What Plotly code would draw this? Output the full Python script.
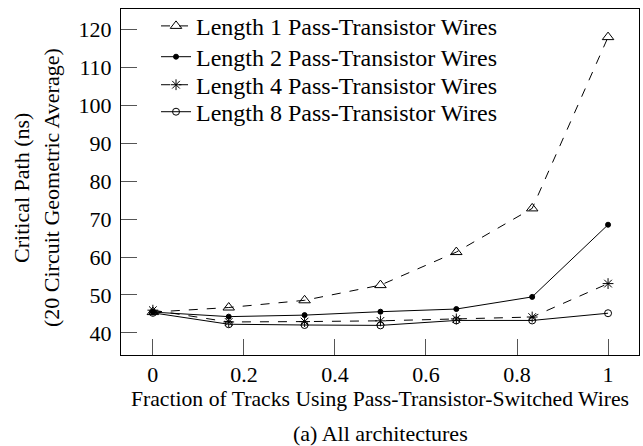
import plotly.graph_objects as go

fraction = [0, 1/6, 1/3, 1/2, 2/3, 5/6, 1]
len1 = [45.5, 46.7, 48.6, 52.6, 61.3, 72.8, 117.9]
len2 = [45.5, 44.3, 44.7, 45.6, 46.3, 49.5, 68.5]
len4 = [46.0, 42.9, 43.0, 43.2, 43.7, 44.2, 53.0]
len8 = [45.3, 42.3, 42.1, 42.0, 43.3, 43.3, 45.2]
names = ["Length 1 Pass-Transistor Wires", "Length 2 Pass-Transistor Wires",
         "Length 4 Pass-Transistor Wires", "Length 8 Pass-Transistor Wires"]
xticks = [0, 0.2, 0.4, 0.6, 0.8, 1]
yticks = [40, 50, 60, 70, 80, 90, 100, 110, 120]

FONT = "Liberation Serif"
FS = 22
LFS = 24
fig = go.Figure()
specs = [
    ("dash", "triangle-up-open", 10),
    ("solid", "circle", 5),
    ("dash", "asterisk-open", 9),
    ("solid", "circle-open", 7),
]
legend_ids = ["legend", "legend2", "legend3", "legend4"]
for vals, nm, (dash, sym, sz), lg in zip([len1, len2, len4, len8], names, specs, legend_ids):
    fig.add_trace(go.Scatter(
        x=fraction, y=vals, name=nm, mode="lines+markers", legend=lg,
        line=dict(color="black", width=1, dash=dash),
        marker=dict(symbol=sym, size=sz, color="black", line=dict(color="black", width=1)),
    ))

leg_y = [0.950, 0.861, 0.780, 0.702]
leg_common = dict(x=0.0676, xanchor="left", yanchor="middle", bgcolor="rgba(0,0,0,0)",
                  font=dict(size=LFS, family=FONT), itemwidth=30)
layout_legends = {lg: dict(y=yy, **leg_common) for lg, yy in zip(legend_ids, leg_y)}

fig.update_layout(
    width=643, height=446,
    margin=dict(l=121, r=4, t=9, b=91),
    paper_bgcolor="white", plot_bgcolor="white",
    font=dict(family=FONT, size=FS, color="black"),
    showlegend=True,
    xaxis=dict(range=[-0.07, 1.068], tickvals=xticks, ticktext=[str(t) for t in xticks],
               ticks="inside", ticklen=16, tickcolor="#555", showline=True, linecolor="black",
               linewidth=1, mirror=True, showgrid=False, zeroline=False,
               tickfont=dict(size=FS, family=FONT),
               title=dict(text="Fraction of Tracks Using Pass-Transistor-Switched Wires",
                          font=dict(size=21.7, family=FONT), standoff=4)),
    yaxis=dict(range=[34.2, 125.3], tickvals=yticks,
               ticks="inside", ticklen=16, tickcolor="#555", showline=True, linecolor="black",
               linewidth=1, mirror=True, showgrid=False, zeroline=False,
               tickfont=dict(size=FS, family=FONT), ticklabelstandoff=4),
    annotations=[
        dict(text="(a) All architectures", xref="paper", yref="paper", x=0.5, y=-0.185,
             xanchor="center", yanchor="top", showarrow=False, font=dict(size=FS, family=FONT)),
        dict(text="Critical Path (ns)", xref="paper", yref="paper", x=-0.191, y=0.483,
             xanchor="center", yanchor="middle", textangle=-90, showarrow=False,
             font=dict(size=FS, family=FONT)),
        dict(text="(20 Circuit Geometric Average)", xref="paper", yref="paper", x=-0.133, y=0.483,
             xanchor="center", yanchor="middle", textangle=-90, showarrow=False,
             font=dict(size=FS, family=FONT)),
    ],
    **layout_legends,
)
fig.write_html("out.html", config={"displayModeBar": False},
               post_script="document.body.style.margin='0';")
